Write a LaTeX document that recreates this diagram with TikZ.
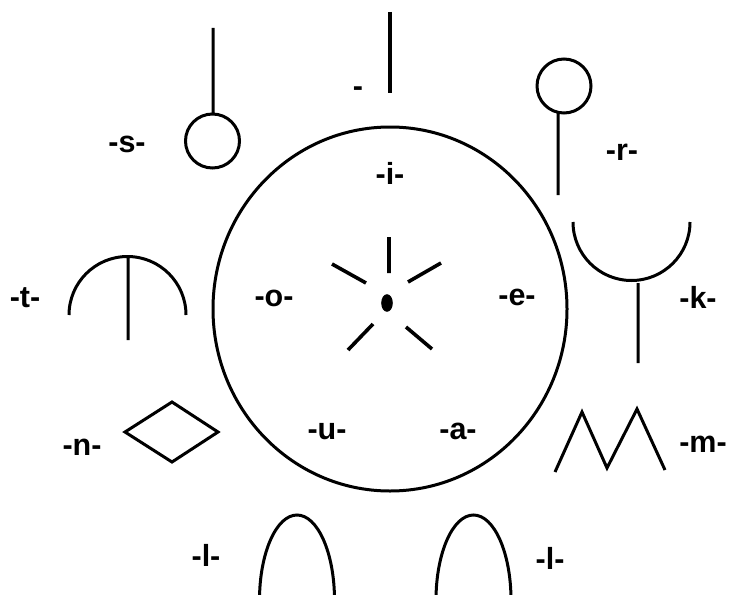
\documentclass[tikz,border=0pt]{standalone}
\usepackage{fontspec}
\setmainfont{Liberation Sans}
\tikzset{
  sound/.style={font=\bfseries\fontsize{30.5}{36}\selectfont,anchor=mid,inner sep=0pt},
  glyph/.style={draw=black,line width=3pt},
  ray/.style={draw=black,line width=3.6pt}
}
\begin{document}
\begin{tikzpicture}[x=1pt,y=-1pt]
\path[use as bounding box] (0,0) rectangle (730,594);
\draw[glyph] (390,309) ellipse [x radius=177,y radius=182];
\draw[ray] (389,237)--(389,273) (332,264)--(366,283) (408,282)--(441,263) (348,350)--(373,324) (406,327)--(432,349);
\fill (387,303) ellipse [x radius=5.8,y radius=8.8];
\draw[ray] (390,12)--(390,93);
\draw[glyph] (212.5,141) circle [radius=27] (213,28)--(213,114);
\draw[glyph] (564,86) circle [radius=27] (558,112)--(558,195);
\draw[glyph] (573,222) arc [start angle=180,end angle=0,radius=58.5] (638,283)--(638,363);
\draw[glyph] (69,315) arc [start angle=180,end angle=360,radius=58.5] (128,257)--(128,340);
\draw[glyph] (125,432)--(172,402)--(218,432)--(172,462)--cycle;
\draw[glyph] (555,472)--(582,412)--(607,468)--(637,409)--(665,470);
\draw[glyph] (259.5,600) arc [start angle=180,end angle=360,x radius=37.5,y radius=85];
\draw[glyph] (436,600) arc [start angle=180,end angle=360,x radius=37.5,y radius=85];
\foreach \nm/\x/\y/\txt in {ls/127/150/-s-,lt/25/305/-t-,ln/82/453/-n-,ll/206/564/-l-,lr/550/567/-l-,lm/703/450/-m-,lk/698/306/-k-,lrr/622/158/-r-,ltop/358/94/-,li/390/182/-i-,lo/274/304/-o-,le/517/303/-e-,lu/327/437/-u-,la/458/437/-a-}
\node[sound] (\nm) at (\x,\y) {\txt};
\end{tikzpicture}
\end{document}
